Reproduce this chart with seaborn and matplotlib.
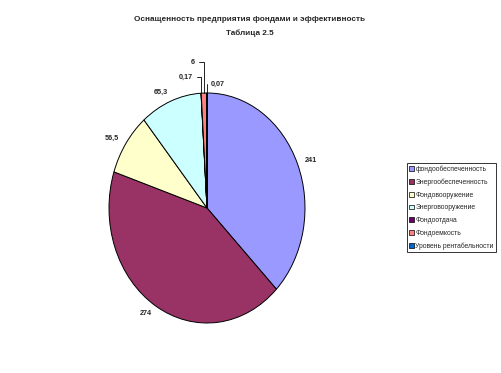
import numpy as np
import matplotlib
matplotlib.use("Agg")
import matplotlib.pyplot as plt
import seaborn as sns

sns.set_theme(style="white")
plt.rcParams['font.family'] = ['Liberation Sans', 'DejaVu Sans']

title = "Оснащенность предприятия фондами и эффективность\nТаблица 2.5"
categories = ["фондообеспеченность", "Энергообеспеченность", "Фондовооружение",
              "Энерговооружение", "Фондоотдача", "Фондоемкость", "Уровень рентабельности"]
values = [241, 274, 56.5, 65.3, 0.17, 6, 0.07]
value_labels = ["241", "274", "56,5", "65,3", "0,17", "6", "0,07"]
colors = ["#9999FF", "#993366", "#FFFFCC", "#CCFFFF", "#660066", "#FF8080", "#0066CC"]

W, H = 502, 373
fig = plt.figure(figsize=(W / 100, H / 100), dpi=100)
fig.patch.set_facecolor("white")
# axes box = bounding box of the (elliptical) pie
ax = fig.add_axes([109 / W, (H - 323) / H, 196 / W, 230 / H])
wedges, _ = ax.pie(values, colors=colors, startangle=90, counterclock=False,
                   wedgeprops=dict(edgecolor="black", linewidth=0.7))
ax.set_aspect("auto")
ax.set_xlim(-1, 1)
ax.set_ylim(-1, 1)
ax.axis("off")

total = sum(values)
cum = np.cumsum([0] + values)
small_offsets = {4: (-5.6, 11.5, "right"), 5: (-6.8, 22.3, "right"), 6: (3.0, 6.5, "left")}
for i, (v, lab) in enumerate(zip(values, value_labels)):
    mid = (cum[i] + v / 2) / total * 2 * np.pi
    x, y = np.sin(mid), np.cos(mid)
    if i in small_offsets:
        dx, dy, ha = small_offsets[i]
        ax.annotate(lab, xy=(x, y), xytext=(dx, dy), textcoords="offset points",
                    ha=ha, va="center", fontsize=5.2, fontweight="bold",
                    arrowprops=dict(arrowstyle="-", color="black", lw=0.6,
                                    shrinkA=0.5, shrinkB=0,
                                    connectionstyle="angle,angleA=0,angleB=90,rad=0"),
                    annotation_clip=False)
    else:
        r = 1.08
        ax.text(r * x, r * y, lab, ha="left" if x > 0 else "right",
                va="center" if abs(y) > 0.3 or x > 0 else "top",
                fontsize=5.2, fontweight="bold", clip_on=False)

fig.text(250 / W, 1 - 26.5 / H, title, ha="center", va="center", fontsize=5.9,
         fontweight="bold", linespacing=2.05)

leg = fig.legend(wedges, categories, loc="upper left",
                 bbox_to_anchor=(407 / W, 1 - 163 / H), fontsize=4.85,
                 frameon=True, fancybox=False, handlelength=0.7, handleheight=0.7,
                 handletextpad=0.2, labelspacing=0.85, borderpad=0.35,
                 borderaxespad=0)
leg.get_frame().set_edgecolor("black")
leg.get_frame().set_linewidth(0.7)
for h in leg.legend_handles:
    h.set_linewidth(0.5)

fig.savefig("out.png", dpi=100)
